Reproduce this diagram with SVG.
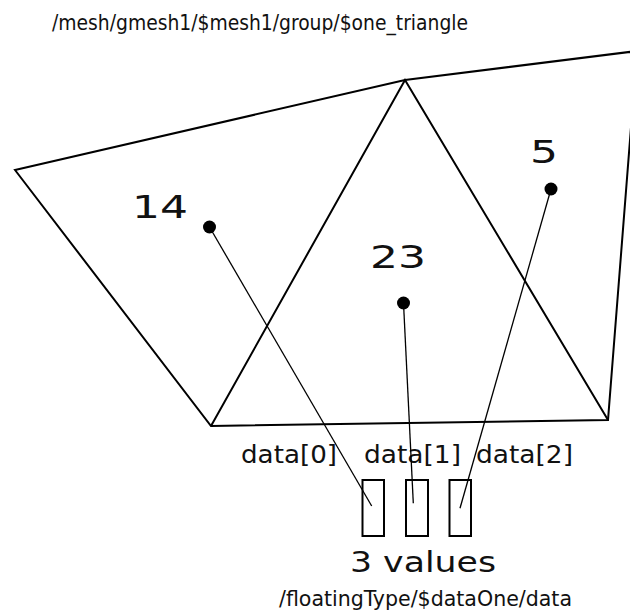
<svg xmlns="http://www.w3.org/2000/svg" width="630" height="613" viewBox="0 0 630 613">
<style>
.edge{fill:none;stroke:#000;stroke-width:2;stroke-linejoin:miter}
.conn{fill:none;stroke:#000;stroke-width:1.3}
.dot{fill:#000}
.cell{fill:none;stroke:#000;stroke-width:2}
.path{font-family:"DejaVu Sans Condensed","DejaVu Sans",sans-serif;font-size:21px;fill:#111}
.num{font-family:"DejaVu Sans",sans-serif;font-size:32px;fill:#111}
.lbl{font-family:"DejaVu Sans",sans-serif;font-size:24px;fill:#111}
.cnt{font-family:"DejaVu Sans",sans-serif;font-size:28px;fill:#111}
</style>
<rect width="630" height="613" fill="#fff"/>
<text class="path" x="52" y="30" textLength="416" lengthAdjust="spacingAndGlyphs">/mesh/gmesh1/$mesh1/group/$one_triangle</text>
<g id="mesh">
<polygon class="edge" points="15,170 405,80 637,51 608,420 211,426"/>
<polyline class="edge" points="211,426 405,80 608,420"/>
</g>
<g id="value14">
<text class="num" x="132" y="217.5" textLength="56" lengthAdjust="spacingAndGlyphs">14</text>
<circle class="dot" cx="209.5" cy="227" r="6.5"/>
</g>
<g id="value23">
<text class="num" x="370" y="268.3" textLength="56" lengthAdjust="spacingAndGlyphs">23</text>
<circle class="dot" cx="403.5" cy="303" r="6.5"/>
</g>
<g id="value5">
<text class="num" x="530" y="163.3" textLength="28" lengthAdjust="spacingAndGlyphs">5</text>
<circle class="dot" cx="551" cy="189" r="6.5"/>
</g>
<g id="dataArray">
<rect class="cell" x="362.5" y="480" width="21.5" height="56"/>
<rect class="cell" x="406" y="480" width="22" height="56"/>
<rect class="cell" x="449.5" y="480" width="21.5" height="56"/>
<text class="lbl" x="241" y="462.5" textLength="96" lengthAdjust="spacingAndGlyphs">data[0]</text>
<text class="lbl" x="364" y="462.5" textLength="97" lengthAdjust="spacingAndGlyphs">data[1]</text>
<text class="lbl" x="476" y="462.5" textLength="97" lengthAdjust="spacingAndGlyphs">data[2]</text>
<text class="cnt" x="350" y="572.3" textLength="146" lengthAdjust="spacingAndGlyphs">3 values</text>
<text class="path" x="279" y="606" textLength="293" lengthAdjust="spacingAndGlyphs">/floatingType/$dataOne/data</text>
</g>
<g id="connectors">
<line class="conn" x1="209.5" y1="227" x2="371.7" y2="506"/>
<line class="conn" x1="403.5" y1="303" x2="413.3" y2="503.3"/>
<line class="conn" x1="551" y1="189" x2="460" y2="508.3"/>
</g>
</svg>
